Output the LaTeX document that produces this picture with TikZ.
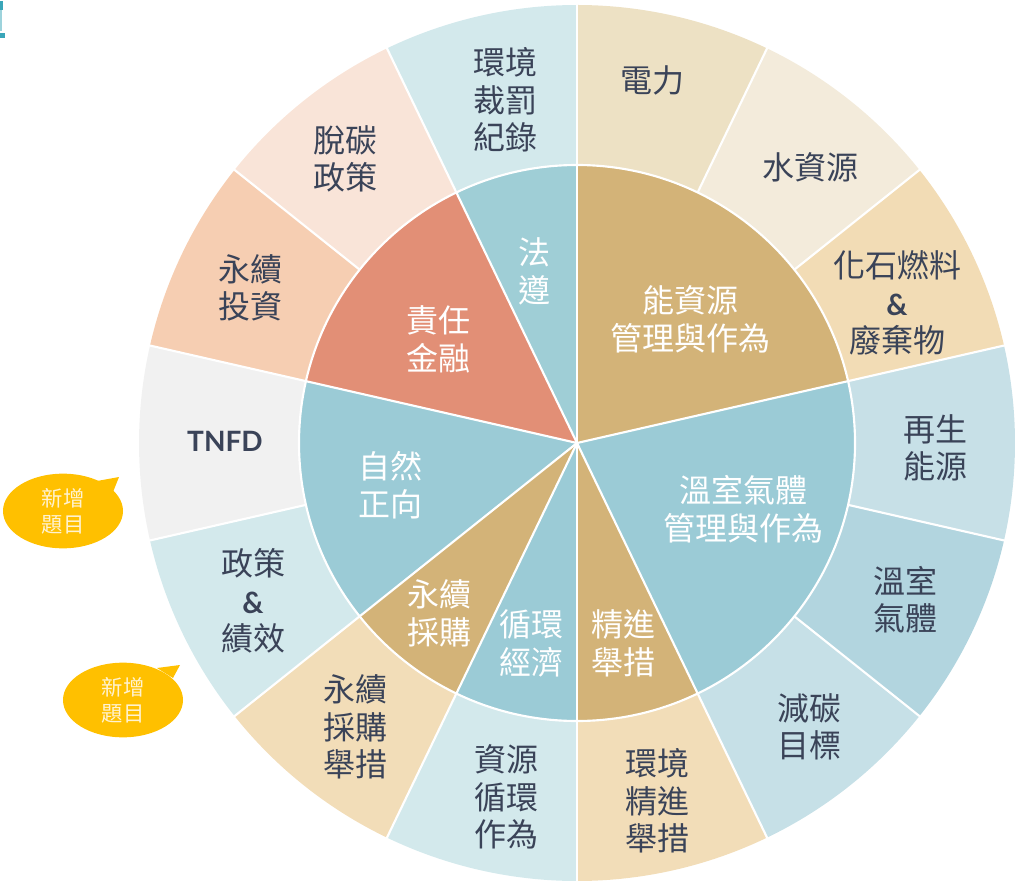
\documentclass[tikz,border=0pt]{standalone}
\usepackage{fontspec}
\setmainfont{Noto Sans CJK TC}
\newfontfamily\latinbold{Lato}
\usetikzlibrary{shapes.geometric}

\definecolor{darktext}{HTML}{3A4358}
\definecolor{tanin}{HTML}{D3B378}
\definecolor{bluein}{HTML}{9BCBD6}
\definecolor{salmonin}{HTML}{E28F76}
\definecolor{lawin}{HTML}{9FCED6}
\definecolor{powerout}{HTML}{EDE1C4}
\definecolor{waterout}{HTML}{F3EBDB}
\definecolor{fossilout}{HTML}{F2DCB5}
\definecolor{renewout}{HTML}{C7E0E7}
\definecolor{ghgout}{HTML}{B2D5DF}
\definecolor{carbonout}{HTML}{C6E0E7}
\definecolor{sandout}{HTML}{F2DDB8}
\definecolor{mistout}{HTML}{D3E9EC}
\definecolor{greyout}{HTML}{F1F1F1}
\definecolor{peachout}{HTML}{F6CEB2}
\definecolor{blushout}{HTML}{F9E4D8}
\definecolor{bubblegold}{HTML}{FFC000}
\definecolor{bubbletext}{HTML}{FFF3D2}
\definecolor{cuttext}{HTML}{3AA6B9}

\tikzset{
  outerlbl/.style={text=darktext, align=center, inner sep=0pt,
    font=\fontsize{24}{28}\selectfont},
  innerlbl/.style={text=white, align=center, inner sep=0pt,
    font=\fontsize{24}{28.5}\selectfont},
  bubble/.style={ellipse, fill=bubblegold, text=bubbletext, align=center,
    minimum width=90pt, minimum height=56pt, inner sep=0pt,
    font=\fontsize{16}{19.5}\selectfont},
  sep/.style={white, line width=1.6pt}
}
\newcommand{\amp}{{\latinbold\bfseries\fontsize{22}{22}\selectfont\&}}

\begin{document}
\begin{tikzpicture}[x=0.75pt,y=0.75pt]
\useasboundingbox (0,0) rectangle (1019,-887);

% Define the radii and the width of one slice
\def\R{438}
\def\r{278}
\def\seg{25.7142857}

% Centre of the wheel
\coordinate (O) at (577,-443);

% Cut-off heading at the top left
\fill[cuttext] (0,-1) rectangle (3,-10);
\fill[cuttext!50] (0,-10) rectangle (1.5,-31);
\fill[cuttext] (0,-33) rectangle (5,-38);

% Draw outer ring, one slice per topic
\foreach \k/\col in {0/powerout, 1/waterout, 2/fossilout, 3/renewout, 4/ghgout,
  5/carbonout, 6/sandout, 7/mistout, 8/sandout, 9/mistout, 10/greyout,
  11/peachout, 12/blushout, 13/mistout} {
  \fill[\col] (O) -- ++({90-\k*\seg}:\R)
    arc[start angle={90-\k*\seg}, end angle={90-(\k+1)*\seg}, radius=\R] -- cycle;
}

% Draw inner wedges
\foreach \a/\b/\col in {0/3/tanin, 3/6/bluein, 6/7/tanin, 7/8/bluein,
  8/9/tanin, 9/11/bluein, 11/13/salmonin, 13/14/lawin} {
  \fill[\col] (O) -- ++({90-\a*\seg}:\r)
    arc[start angle={90-\a*\seg}, end angle={90-\b*\seg}, radius=\r] -- cycle;
}

% White separators
\draw[sep] (O) circle[radius=\r];
\foreach \k in {0,...,13} {
  \draw[sep] (O) ++({90-\k*\seg}:\r) -- ++({90-\k*\seg}:{\R-\r+2});
}
\foreach \k in {0,3,6,7,8,9,11,13} {
  \draw[sep] (O) -- ++({90-\k*\seg}:\r);
}

% Inner labels
\node[innerlbl] (energy) at (690,-319) {能資源\\管理與作為};
\node[innerlbl] (ghg) at (743,-509) {溫室氣體\\管理與作為};
\node[innerlbl] (improve) at (623,-643) {精進\\舉措};
\node[innerlbl] (circular) at (531,-643) {循環\\經濟};
\node[innerlbl] (procure) at (439,-613) {永續\\採購};
\node[innerlbl] (nature) at (390,-485) {自然\\正向};
\node[innerlbl] (finance) at (438,-339) {責任\\金融};
\node[innerlbl] (law) at (534,-271) {法\\遵};

% Outer labels
\node[outerlbl] (power) at (652,-80) {電力};
\node[outerlbl] (water) at (810,-167) {水資源};
\node[outerlbl] (fossil) at (897,-303) {化石燃料\\\amp\\廢棄物};
\node[outerlbl] (renew) at (935,-448) {再生\\能源};
\node[outerlbl] (ghgout) at (905,-600) {溫室\\氣體};
\node[outerlbl] (carbon) at (809,-727) {減碳\\目標};
\node[outerlbl] (envimp) at (657,-801) {環境\\精進\\舉措};
\node[outerlbl] (resource) at (506,-797) {資源\\循環\\作為};
\node[outerlbl] (procact) at (355,-727) {永續\\採購\\舉措};
\node[outerlbl] (policy) at (253,-601) {政策\\\amp\\績效};
\node[outerlbl, font=\latinbold\bfseries\fontsize{21}{24}\selectfont] (tnfd) at (225,-441) {TNFD};
\node[outerlbl] (invest) at (250,-288) {永續\\投資};
\node[outerlbl] (decarb) at (345,-159) {脫碳\\政策};
\node[outerlbl] (penalty) at (505,-100) {環境\\裁罰\\紀錄};

% Speech bubbles for new topics
\node[bubble] (newa) at (63,-511) {新增\\題目};
\fill[bubblegold] (newa.center) ++(34,30) -- ++(22,4) -- ++(-6,-15) -- cycle;
\node[bubble] (newb) at (123,-700) {新增\\題目};
\fill[bubblegold] (newb.center) ++(34,32) -- ++(23,3) -- ++(-7,-13) -- cycle;

\end{tikzpicture}
\end{document}
